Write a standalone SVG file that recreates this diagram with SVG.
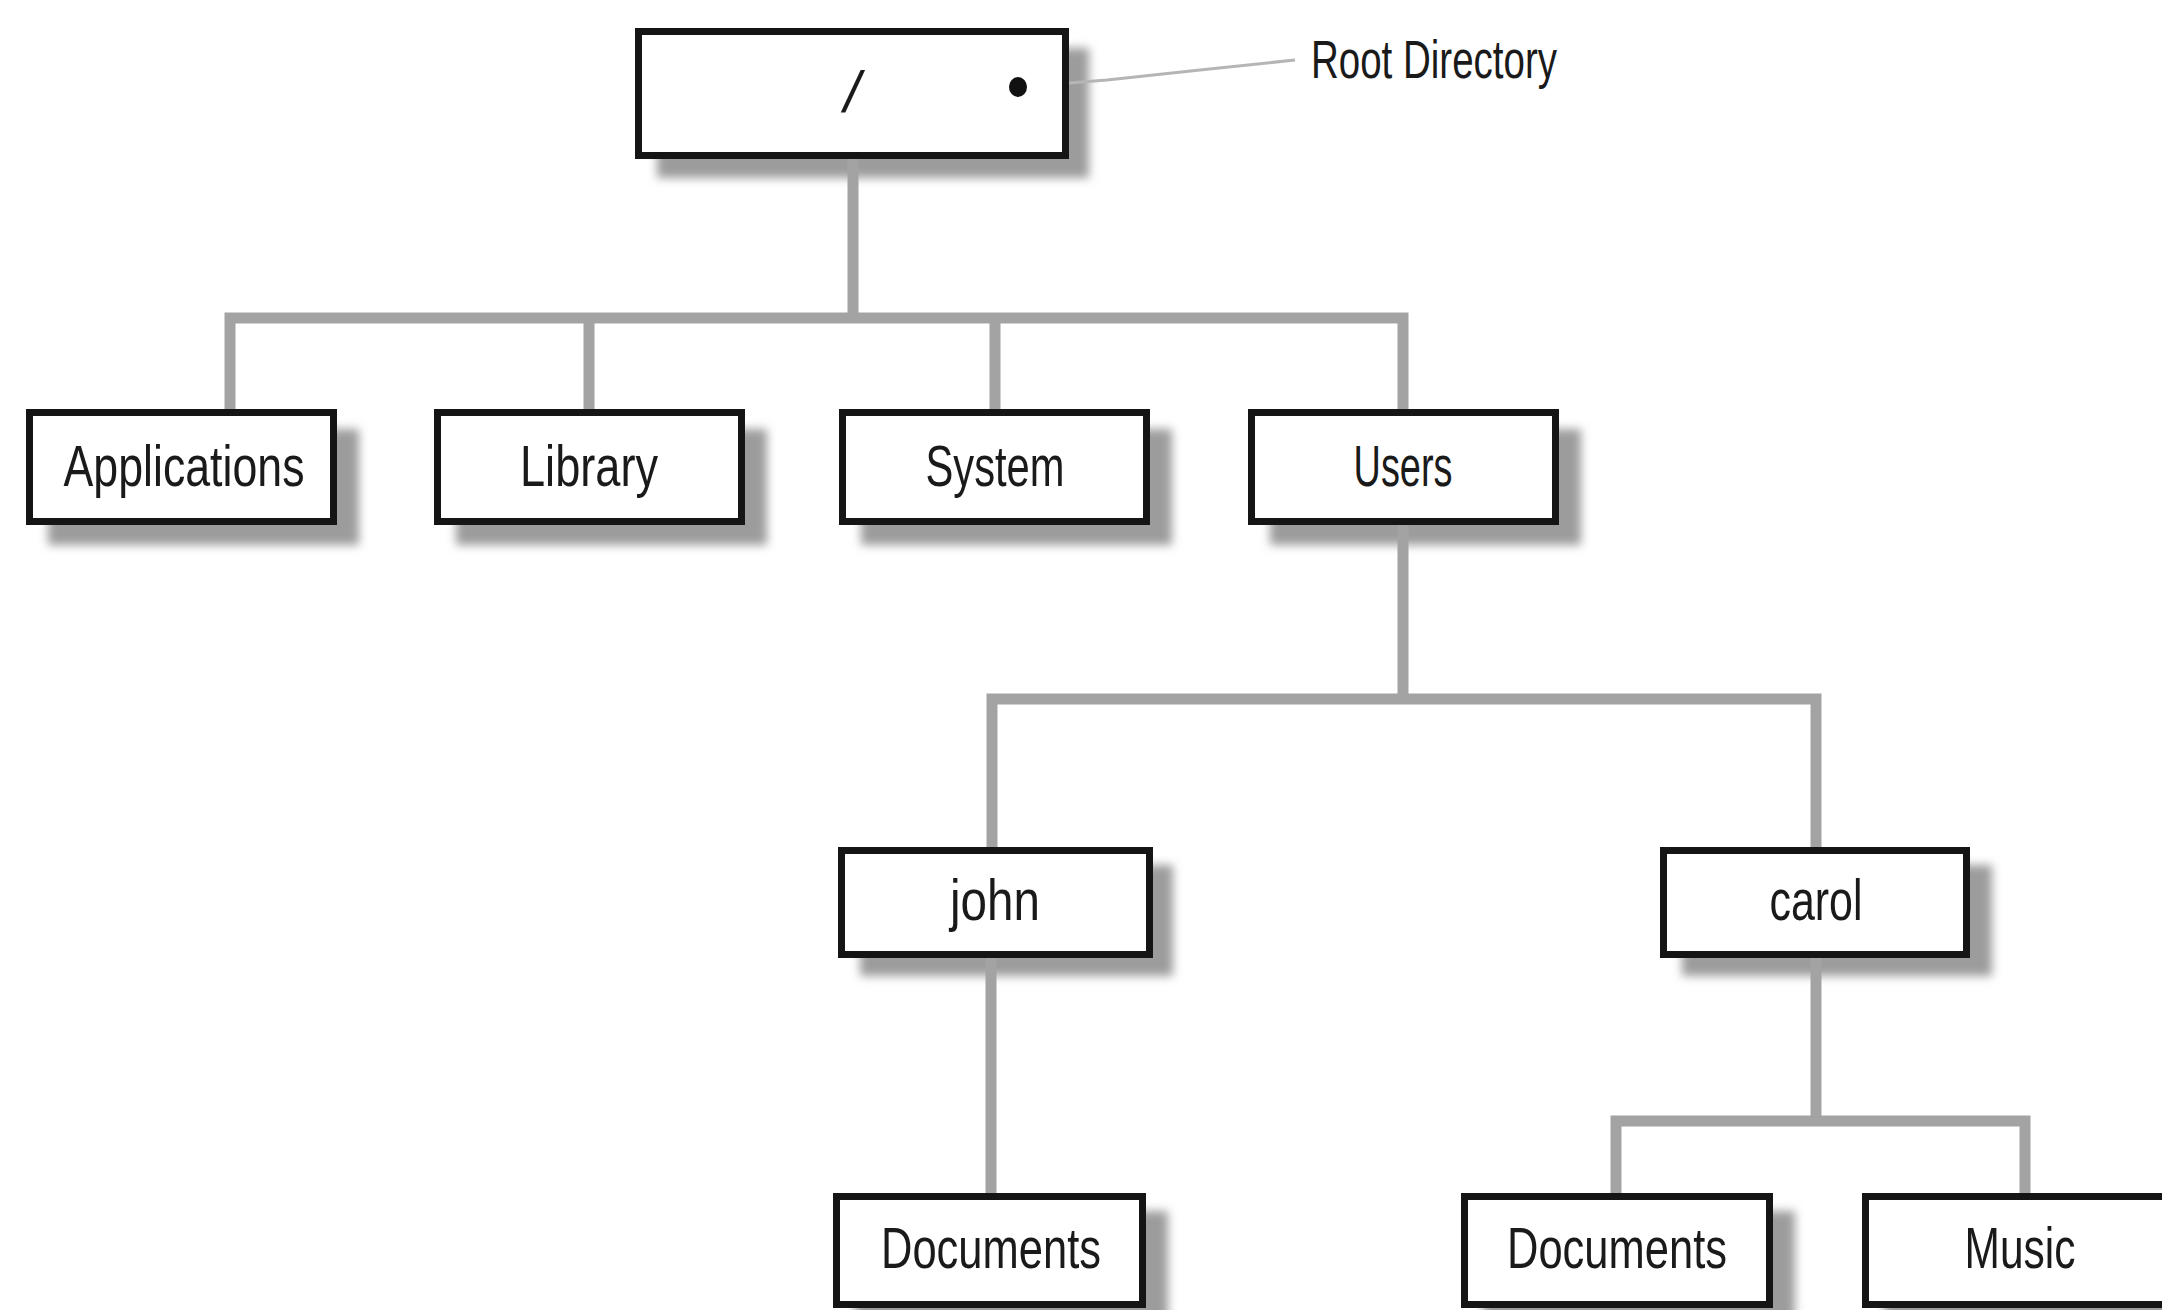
<svg xmlns="http://www.w3.org/2000/svg" width="2162" height="1310" viewBox="0 0 2162 1310">
<defs>
<filter id="blur" x="-20%" y="-20%" width="140%" height="140%">
<feGaussianBlur stdDeviation="5"/>
</filter>
<style>
.box{fill:#ffffff;stroke:#151515;stroke-width:7}
.sh{fill:#9c9c9c;filter:url(#blur)}
.lbl{font-family:"Liberation Sans",Arial,sans-serif;font-size:58px;fill:#1a1a1a;text-anchor:middle}
.conn{fill:none;stroke:#a3a3a3;stroke-width:11;stroke-linejoin:miter;stroke-linecap:butt}
</style>
</defs>
<rect width="2162" height="1310" fill="#ffffff"/>
<g id="shadows">
<rect class="sh" x="657" y="48" width="432" height="130"/>
<rect class="sh" x="48" y="429" width="311" height="116"/>
<rect class="sh" x="456" y="429" width="311" height="116"/>
<rect class="sh" x="861" y="429" width="311" height="116"/>
<rect class="sh" x="1270" y="429" width="311" height="116"/>
<rect class="sh" x="860" y="865" width="313" height="111"/>
<rect class="sh" x="1682" y="865" width="310" height="111"/>
<rect class="sh" x="855" y="1211" width="313" height="115"/>
<rect class="sh" x="1483" y="1211" width="312" height="115"/>
<rect class="sh" x="1884" y="1211" width="310" height="115"/>
</g>
<g id="connectors">
<path class="conn" d="M853,159 V318"/>
<path class="conn" d="M230,409 V318 H1403 V409"/>
<path class="conn" d="M589,318 V409"/>
<path class="conn" d="M995,318 V409"/>
<path class="conn" d="M1403,525 V699"/>
<path class="conn" d="M992,847 V699 H1816 V847"/>
<path class="conn" d="M991,958 V1193"/>
<path class="conn" d="M1816,958 V1121"/>
<path class="conn" d="M1616,1193 V1121 H2025 V1193"/>
<path d="M1018,87 L1107,80 L1200,70 L1295,60" fill="none" stroke="#b5b5b5" stroke-width="3"/>
</g>
<g id="root">
<rect class="box" x="638.5" y="31.5" width="427" height="124"/>
<text class="lbl" x="852" y="112" font-size="62" font-style="italic">/</text>
<ellipse cx="1018" cy="87" rx="9" ry="10" fill="#111111"/>
</g>
<g id="root-label">
<text x="1311" y="78" font-family="Liberation Sans, Arial, sans-serif" font-size="54" fill="#1a1a1a" textLength="246" lengthAdjust="spacingAndGlyphs">Root Directory</text>
</g>
<g id="applications">
<rect class="box" x="29.5" y="412.5" width="304" height="109"/>
<text class="lbl" x="184" y="486" textLength="241" lengthAdjust="spacingAndGlyphs">Applications</text>
</g>
<g id="library">
<rect class="box" x="437.5" y="412.5" width="304" height="109"/>
<text class="lbl" x="589" y="486" textLength="138" lengthAdjust="spacingAndGlyphs">Library</text>
</g>
<g id="system">
<rect class="box" x="842.5" y="412.5" width="304" height="109"/>
<text class="lbl" x="995" y="486" textLength="139" lengthAdjust="spacingAndGlyphs">System</text>
</g>
<g id="users">
<rect class="box" x="1251.5" y="412.5" width="304" height="109"/>
<text class="lbl" x="1403" y="486" textLength="99" lengthAdjust="spacingAndGlyphs">Users</text>
</g>
<g id="john">
<rect class="box" x="841.5" y="850.5" width="308" height="104"/>
<text class="lbl" x="995" y="920" textLength="90" lengthAdjust="spacingAndGlyphs">john</text>
</g>
<g id="carol">
<rect class="box" x="1663.5" y="850.5" width="303" height="104"/>
<text class="lbl" x="1816" y="920" textLength="93" lengthAdjust="spacingAndGlyphs">carol</text>
</g>
<g id="john-documents">
<rect class="box" x="836.5" y="1196.5" width="306" height="108"/>
<text class="lbl" x="991" y="1268" textLength="220" lengthAdjust="spacingAndGlyphs">Documents</text>
</g>
<g id="carol-documents">
<rect class="box" x="1464.5" y="1196.5" width="305" height="108"/>
<text class="lbl" x="1617" y="1268" textLength="220" lengthAdjust="spacingAndGlyphs">Documents</text>
</g>
<g id="music">
<rect class="box" x="1865.5" y="1196.5" width="303" height="108"/>
<text class="lbl" x="2020" y="1268" textLength="111" lengthAdjust="spacingAndGlyphs">Music</text>
</g>
</svg>
